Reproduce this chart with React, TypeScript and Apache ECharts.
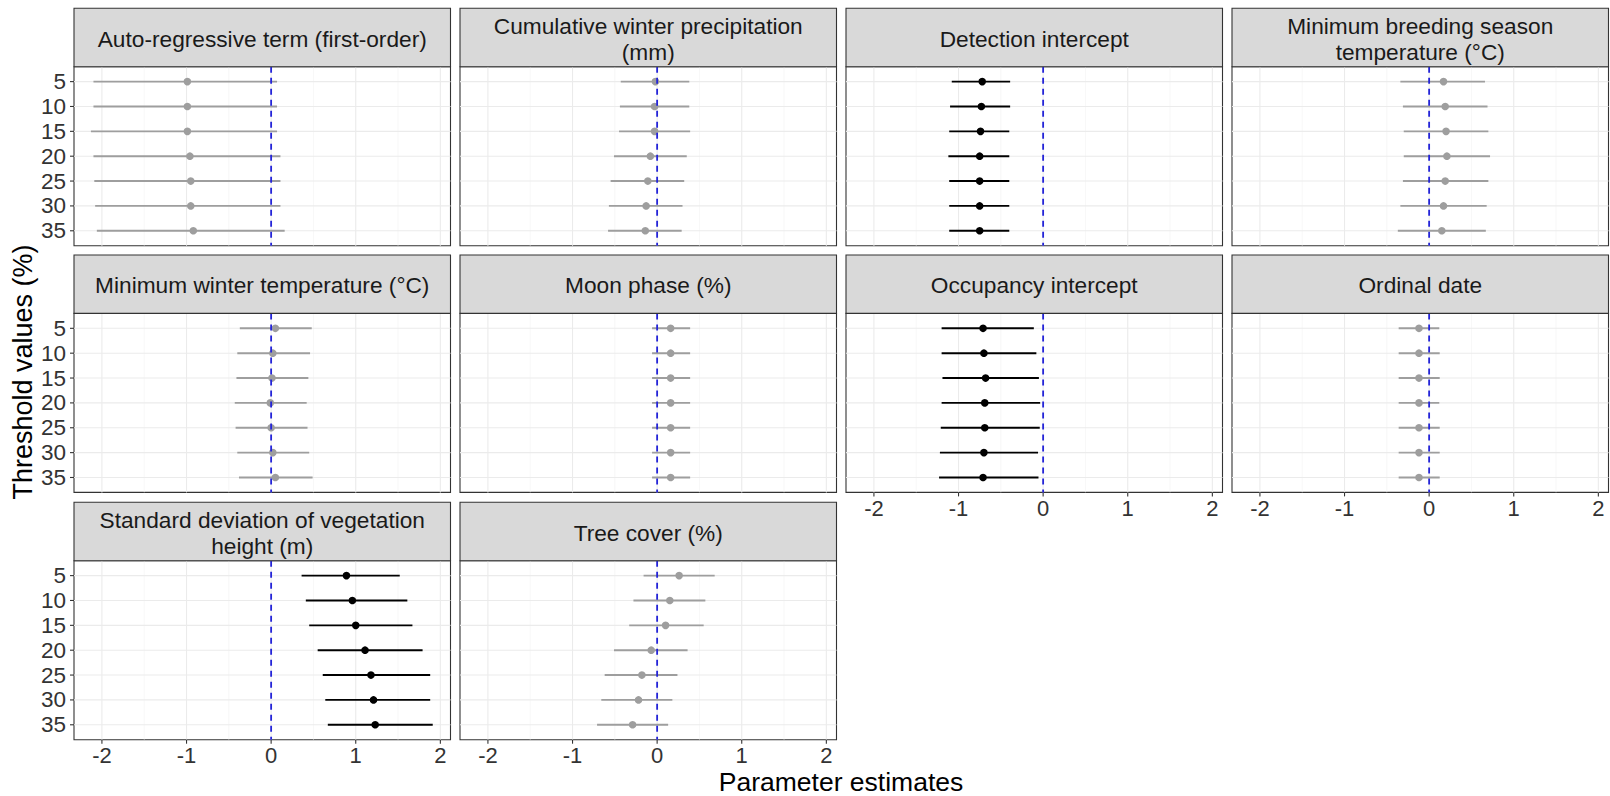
import React, { useEffect, useRef } from "react";
import * as echarts from "echarts";

// ---- Data ----
const thresholds = [5, 10, 15, 20, 25, 30, 35];
const xTicks = [-2, -1, 0, 1, 2];
const xMinorTicks = [-1.5, -0.5, 0.5, 1.5];

const panelTitles = [
  "Auto-regressive term (first-order)",
  "Cumulative winter precipitation\n(mm)",
  "Detection intercept",
  "Minimum breeding season\ntemperature (°C)",
  "Minimum winter temperature (°C)",
  "Moon phase (%)",
  "Occupancy intercept",
  "Ordinal date",
  "Standard deviation of vegetation\nheight (m)",
  "Tree cover (%)",
];

const autoRegEst = [-0.99, -0.99, -0.99, -0.96, -0.95, -0.95, -0.92];
const autoRegLower = [-2.1, -2.1, -2.13, -2.1, -2.09, -2.08, -2.06];
const autoRegUpper = [0.07, 0.07, 0.07, 0.11, 0.11, 0.11, 0.16];

const precipEst = [-0.02, -0.03, -0.03, -0.08, -0.11, -0.13, -0.14];
const precipLower = [-0.43, -0.44, -0.45, -0.51, -0.55, -0.57, -0.58];
const precipUpper = [0.38, 0.38, 0.39, 0.35, 0.32, 0.3, 0.29];

const detectEst = [-0.72, -0.73, -0.74, -0.75, -0.75, -0.75, -0.75];
const detectLower = [-1.08, -1.1, -1.11, -1.12, -1.11, -1.11, -1.11];
const detectUpper = [-0.39, -0.39, -0.4, -0.4, -0.4, -0.4, -0.4];

const breedTempEst = [0.17, 0.19, 0.2, 0.21, 0.19, 0.17, 0.15];
const breedTempLower = [-0.34, -0.31, -0.3, -0.3, -0.31, -0.34, -0.37];
const breedTempUpper = [0.66, 0.69, 0.7, 0.72, 0.7, 0.68, 0.67];

const winterTempEst = [0.05, 0.02, 0.01, -0.01, 0.0, 0.02, 0.05];
const winterTempLower = [-0.37, -0.4, -0.41, -0.43, -0.42, -0.4, -0.38];
const winterTempUpper = [0.48, 0.46, 0.44, 0.42, 0.43, 0.45, 0.49];

const moonEst = [0.16, 0.16, 0.16, 0.16, 0.16, 0.16, 0.16];
const moonLower = [-0.06, -0.06, -0.06, -0.06, -0.06, -0.06, -0.06];
const moonUpper = [0.39, 0.39, 0.39, 0.39, 0.39, 0.39, 0.39];

const occEst = [-0.71, -0.7, -0.68, -0.69, -0.69, -0.7, -0.71];
const occLower = [-1.2, -1.2, -1.19, -1.2, -1.21, -1.22, -1.23];
const occUpper = [-0.11, -0.08, -0.05, -0.035, -0.04, -0.06, -0.055];

const ordinalEst = [-0.12, -0.12, -0.12, -0.12, -0.12, -0.12, -0.12];
const ordinalLower = [-0.36, -0.36, -0.36, -0.36, -0.36, -0.36, -0.36];
const ordinalUpper = [0.12, 0.125, 0.125, 0.12, 0.125, 0.125, 0.125];

const vegSdEst = [0.89, 0.96, 1.0, 1.11, 1.18, 1.21, 1.23];
const vegSdLower = [0.36, 0.41, 0.45, 0.55, 0.61, 0.64, 0.67];
const vegSdUpper = [1.52, 1.61, 1.67, 1.79, 1.88, 1.88, 1.91];

const treeEst = [0.26, 0.15, 0.1, -0.07, -0.18, -0.22, -0.29];
const treeLower = [-0.16, -0.28, -0.33, -0.51, -0.62, -0.66, -0.71];
const treeUpper = [0.68, 0.57, 0.55, 0.36, 0.24, 0.18, 0.13];

const panelEst = [autoRegEst, precipEst, detectEst, breedTempEst, winterTempEst, moonEst, occEst, ordinalEst, vegSdEst, treeEst];
const panelLower = [autoRegLower, precipLower, detectLower, breedTempLower, winterTempLower, moonLower, occLower, ordinalLower, vegSdLower, treeLower];
const panelUpper = [autoRegUpper, precipUpper, detectUpper, breedTempUpper, winterTempUpper, moonUpper, occUpper, ordinalUpper, vegSdUpper, treeUpper];

// ---- Layout ----
const colLeft = [74, 460, 846, 1232];
const panelW = 376.5;
const rowStripTop = [8.3, 255, 502.3];
const stripH = 58.4;
const plotH = 179;
const X_MIN = -2.33;
const X_MAX = 2.12;
const FONT = "Liberation Sans, Arial, Helvetica, sans-serif";
const bottomPanels = [6, 7, 8, 9];
const leftPanels = [0, 4, 8];

export default function App() {
  const ref = useRef<HTMLDivElement>(null);
  useEffect(() => {
    if (!ref.current) return;
    const chart = echarts.init(ref.current, undefined, { renderer: "svg" });

    const grids: any[] = [];
    const xAxes: any[] = [];
    const yAxes: any[] = [];
    const series: any[] = [];
    const graphics: any[] = [];

    panelTitles.forEach((title, i) => {
      const col = i % 4;
      const row = Math.floor(i / 4);
      const left = colLeft[col];
      const stripTop = rowStripTop[row];
      const top = stripTop + stripH;
      const isBottom = bottomPanels.includes(i);
      const isLeft = leftPanels.includes(i);

      grids.push({
        left,
        top,
        width: panelW,
        height: plotH,
        show: true,
        backgroundColor: "#ffffff",
        borderColor: "#333333",
        borderWidth: 1.1,
      });
      xAxes.push({
        type: "value",
        gridIndex: i,
        min: X_MIN,
        max: X_MAX,
        axisLine: { show: false },
        splitLine: { show: false },
        axisTick: { show: false },
        axisLabel: {
          show: isBottom,
          customValues: xTicks,
          fontSize: 22,
          lineHeight: 20,
          fontFamily: FONT,
          color: "#333333",
          margin: 6,
          formatter: (v: number) => String(v),
        },
      });
      yAxes.push({
        type: "value",
        gridIndex: i,
        min: -0.6,
        max: 6.6,
        inverse: true,
        axisLine: { show: false },
        splitLine: { show: false },
        axisTick: { show: false },
        axisLabel: {
          show: isLeft,
          customValues: [0, 1, 2, 3, 4, 5, 6],
          fontSize: 22.5,
          lineHeight: 20,
          fontFamily: FONT,
          color: "#333333",
          margin: 8,
          formatter: (v: number) => String(thresholds[Math.round(v)]),
        },
      });

      // grid lines and tick marks
      const gridData: any[] = [];
      xTicks.forEach((v) => gridData.push([v, 0, 1]));
      xMinorTicks.forEach((v) => gridData.push([v, 0, 0]));
      thresholds.forEach((_, k) => gridData.push([X_MIN, k, 2]));
      if (isBottom) xTicks.forEach((v) => gridData.push([v, 0, 3]));
      if (isLeft) thresholds.forEach((_, k) => gridData.push([X_MIN, k, 4]));
      series.push({
        type: "custom",
        xAxisIndex: i,
        yAxisIndex: i,
        silent: true,
        z: 1,
        data: gridData,
        renderItem: (params: any, api: any) => {
          const cs = params.coordSys;
          const kind = api.value(2);
          const p = api.coord([api.value(0), api.value(1)]);
          if (kind === 2) {
            return {
              type: "line",
              shape: { x1: cs.x, y1: p[1], x2: cs.x + cs.width, y2: p[1] },
              style: { stroke: "#EBEBEB", lineWidth: 1.1 },
            };
          }
          if (kind === 3) {
            const yb = cs.y + cs.height;
            return {
              type: "line",
              shape: { x1: p[0], y1: yb, x2: p[0], y2: yb + 4 },
              style: { stroke: "#333333", lineWidth: 1.1 },
            };
          }
          if (kind === 4) {
            return {
              type: "line",
              shape: { x1: cs.x - 4, y1: p[1], x2: cs.x, y2: p[1] },
              style: { stroke: "#333333", lineWidth: 1.1 },
            };
          }
          return {
            type: "line",
            shape: { x1: p[0], y1: cs.y, x2: p[0], y2: cs.y + cs.height },
            style: { stroke: kind === 1 ? "#EBEBEB" : "#F2F2F2", lineWidth: kind === 1 ? 1.1 : 0.6 },
          };
        },
      });

      // estimates with intervals
      const est = panelEst[i];
      const lo = panelLower[i];
      const hi = panelUpper[i];
      const data = est.map((e, k) => [lo[k], e, hi[k], k, lo[k] > 0 || hi[k] < 0 ? 1 : 0]);
      series.push({
        type: "custom",
        xAxisIndex: i,
        yAxisIndex: i,
        z: 3,
        encode: { x: [0, 1, 2], y: 3 },
        data,
        renderItem: (params: any, api: any) => {
          const y = api.value(3);
          const a = api.coord([api.value(0), y]);
          const b = api.coord([api.value(2), y]);
          const c = api.coord([api.value(1), y]);
          const color = api.value(4) ? "#000000" : "#9E9E9E";
          return {
            type: "group",
            children: [
              { type: "line", shape: { x1: a[0], y1: a[1], x2: b[0], y2: b[1] }, style: { stroke: color, lineWidth: 1.9 } },
              { type: "circle", shape: { cx: c[0], cy: c[1], r: 3.8 }, style: { fill: color } },
            ],
          };
        },
      });

      // zero reference line
      series.push({
        type: "custom",
        xAxisIndex: i,
        yAxisIndex: i,
        silent: true,
        z: 4,
        data: [[0, 0]],
        renderItem: (params: any, api: any) => {
          const cs = params.coordSys;
          const p = api.coord([api.value(0), api.value(1)]);
          return {
            type: "line",
            shape: { x1: p[0], y1: cs.y, x2: p[0], y2: cs.y + cs.height },
            style: { stroke: "#2424D8", lineWidth: 1.8, lineDash: [6, 5] },
          };
        },
      });

      // strip
      graphics.push({
        type: "rect",
        shape: { x: left, y: stripTop, width: panelW, height: stripH },
        style: { fill: "#D9D9D9", stroke: "#333333", lineWidth: 1.1 },
        z: 10,
      });
      graphics.push({
        type: "text",
        x: left + panelW / 2,
        y: stripTop + stripH / 2 + 1,
        z: 11,
        style: {
          text: title,
          font: `22.7px ${FONT}`,
          fill: "#1A1A1A",
          textAlign: "center",
          textVerticalAlign: "middle",
          align: "center",
          verticalAlign: "middle",
          lineHeight: 26,
        },
      });
    });

    graphics.push({
      type: "text",
      x: 841,
      y: 782,
      z: 11,
      style: {
        text: "Parameter estimates",
        font: `26.5px ${FONT}`,
        fill: "#000000",
        textAlign: "center",
        textVerticalAlign: "middle",
        align: "center",
        verticalAlign: "middle",
        lineHeight: 26,
      },
    });
    graphics.push({
      type: "text",
      x: 23,
      y: 372,
      rotation: Math.PI / 2,
      z: 11,
      style: {
        text: "Threshold values (%)",
        font: `27px ${FONT}`,
        fill: "#000000",
        textAlign: "center",
        textVerticalAlign: "middle",
        align: "center",
        verticalAlign: "middle",
      },
    });

    chart.setOption({
      animation: false,
      backgroundColor: "#ffffff",
      grid: grids,
      xAxis: xAxes,
      yAxis: yAxes,
      series,
      graphic: graphics,
    });
    return () => chart.dispose();
  }, []);

  return (
    <div
      ref={ref}
      style={{ position: "absolute", left: 0, top: 0, width: 1610, height: 796 }}
    />
  );
}
